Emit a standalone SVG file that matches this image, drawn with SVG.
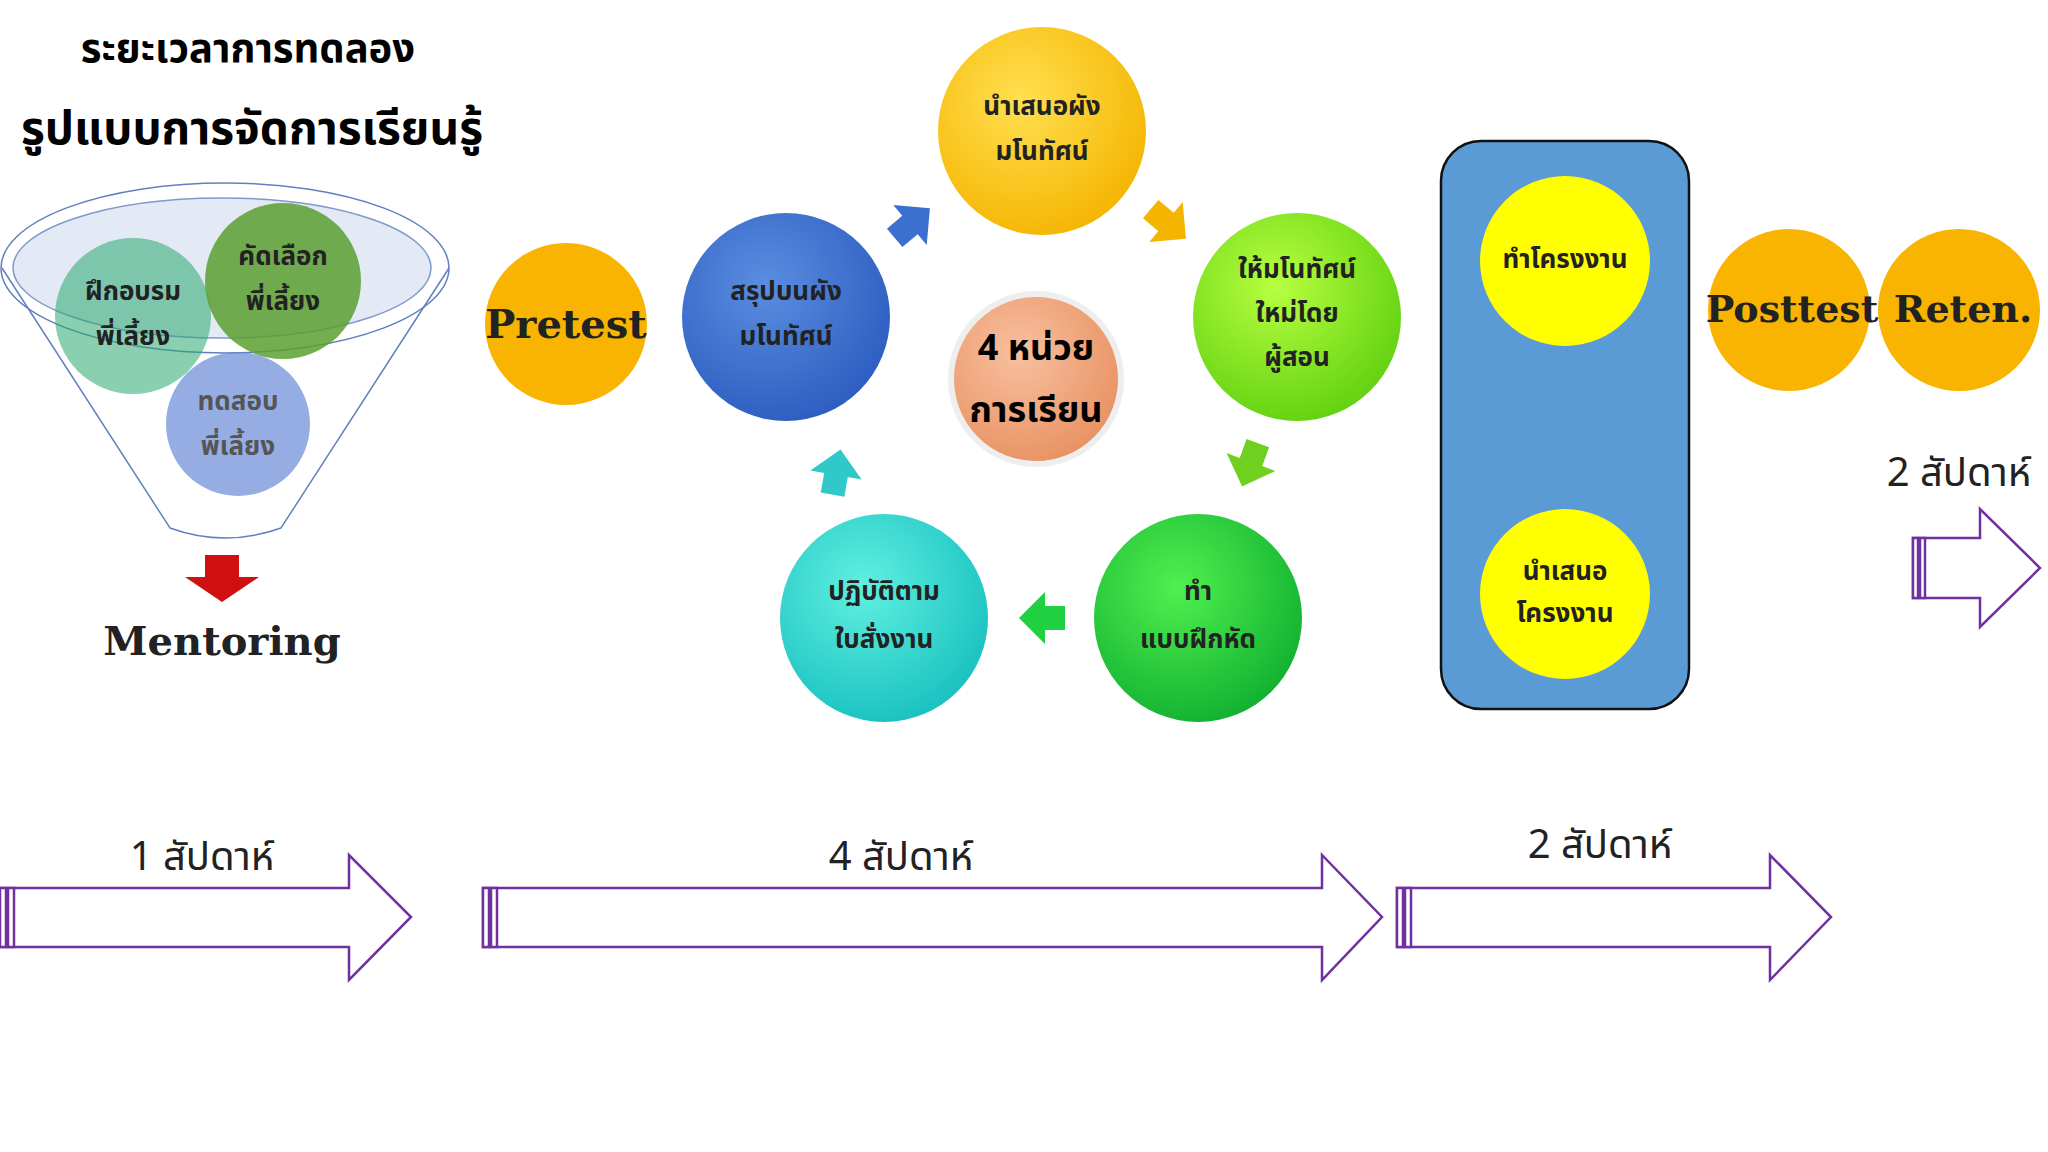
<svg xmlns="http://www.w3.org/2000/svg" width="2048" height="1152" viewBox="0 0 2048 1152">
<defs>
<radialGradient id="gY" cx="40%" cy="35%" r="70%"><stop offset="0" stop-color="#ffe050"/><stop offset="1" stop-color="#f5b400"/></radialGradient>
<radialGradient id="gG" cx="40%" cy="35%" r="70%"><stop offset="0" stop-color="#b8ff40"/><stop offset="1" stop-color="#60d010"/></radialGradient>
<radialGradient id="gG2" cx="40%" cy="35%" r="70%"><stop offset="0" stop-color="#50f050"/><stop offset="1" stop-color="#10b030"/></radialGradient>
<radialGradient id="gC" cx="40%" cy="35%" r="70%"><stop offset="0" stop-color="#60f0e0"/><stop offset="1" stop-color="#18c0c0"/></radialGradient>
<radialGradient id="gB" cx="40%" cy="35%" r="70%"><stop offset="0" stop-color="#5a8ee0"/><stop offset="1" stop-color="#2c5cc0"/></radialGradient>
<radialGradient id="gO" cx="40%" cy="35%" r="70%"><stop offset="0" stop-color="#f8c0a0"/><stop offset="1" stop-color="#e89060"/></radialGradient>
</defs>
<style>
text{font-family:"Noto Sans Thai","Noto Sans","DejaVu Sans",sans-serif;text-anchor:middle}
.t{font-size:26px;font-weight:bold;fill:#222}
.w{font-size:40px;fill:#222}
.b{font-size:40px;font-weight:bold;font-family:"DejaVu Serif","Liberation Serif",serif;fill:#222}
.arr{fill:#fff;stroke:#7030a0;stroke-width:2.5}
</style>
<rect width="2048" height="1152" fill="#fff"/>
<text x="248" y="62" style="font-size:40px;font-weight:bold">ระยะเวลาการทดลอง</text>
<text x="252" y="144" style="font-size:46px;font-weight:bold">รูปแบบการจัดการเรียนรู้</text>
<g id="funnel">
<path d="M2,268 L170,528 Q225,548 281,528 L449,268" fill="none" stroke="#6080c0" stroke-width="1.5"/>
<ellipse cx="225" cy="268" rx="224" ry="85" fill="none" stroke="#6080c0" stroke-width="1.5"/>
<ellipse cx="222" cy="268" rx="209" ry="70" fill="#dde6f4" stroke="#6080c0" stroke-width="1.5" opacity="0.8"/>
<circle cx="133" cy="316" r="78" fill="#2aa870" opacity="0.55"/>
<circle cx="283" cy="281" r="78" fill="#5aa030" opacity="0.85"/>
<circle cx="238" cy="424" r="72" fill="#6a8ad8" opacity="0.7"/>
<text class="t" x="133" y="300">ฝึกอบรม</text><text class="t" x="133" y="345" fill="#444">พี่เลี้ยง</text>
<text class="t" x="283" y="265">คัดเลือก</text><text class="t" x="283" y="310">พี่เลี้ยง</text>
<text class="t" x="238" y="410" style="fill:#555">ทดสอบ</text><text class="t" x="238" y="455" style="fill:#555">พี่เลี้ยง</text>
<path d="M205,555 h34 v22 h20 l-37,25 l-37,-25 h20 z" fill="#d01010"/>
<text class="b" x="222" y="655">Mentoring</text>
</g>
<g id="pretest"><circle cx="566" cy="324" r="81" fill="#f8b400"/><text class="b" x="566" y="338">Pretest</text></g>
<g id="cycle">
<circle cx="1042" cy="131" r="104" fill="url(#gY)"/><text class="t" x="1042" y="115">นำเสนอผัง</text><text class="t" x="1042" y="160">มโนทัศน์</text>
<circle cx="1297" cy="317" r="104" fill="url(#gG)"/><text class="t" x="1297" y="278">ให้มโนทัศน์</text><text class="t" x="1297" y="322">ใหม่โดย</text><text class="t" x="1297" y="366">ผู้สอน</text>
<circle cx="1198" cy="618" r="104" fill="url(#gG2)"/><text class="t" x="1198" y="600">ทำ</text><text class="t" x="1198" y="648">แบบฝึกหัด</text>
<circle cx="884" cy="618" r="104" fill="url(#gC)"/><text class="t" x="884" y="600">ปฏิบัติตาม</text><text class="t" x="884" y="648">ใบสั่งงาน</text>
<circle cx="786" cy="317" r="104" fill="url(#gB)"/><text class="t" x="786" y="300">สรุปบนผัง</text><text class="t" x="786" y="345">มโนทัศน์</text>
<circle cx="1036" cy="379" r="85" fill="url(#gO)" stroke="#eee" stroke-width="6"/><text x="1036" y="360" style="font-size:36px;font-weight:bold">4 หน่วย</text><text x="1036" y="422" style="font-size:36px;font-weight:bold">การเรียน</text>
</g>
<g id="connectors">
<path d="M-20,-12 h20 v-14 l26,26 l-26,26 v-14 h-20 z" fill="#3c70d0" transform="translate(910,225) rotate(-40)"/>
<path d="M-20,-12 h20 v-14 l26,26 l-26,26 v-14 h-20 z" fill="#f5b400" transform="translate(1166,222) rotate(40)"/>
<path d="M-20,-12 h20 v-14 l26,26 l-26,26 v-14 h-20 z" fill="#70d020" transform="translate(1251,462) rotate(110)"/>
<path d="M-20,-12 h20 v-14 l26,26 l-26,26 v-14 h-20 z" fill="#20d040" transform="translate(1045,618) rotate(180)"/>
<path d="M-20,-12 h20 v-14 l26,26 l-26,26 v-14 h-20 z" fill="#30c8c8" transform="translate(836,475) rotate(-80)"/>
<path class="arr" d="M0,888 H349 V855 L411,917 L349,980 V947 H0 Z"/>
<rect x="0" y="888" width="6" height="59" class="arr"/><rect x="8" y="888" width="6" height="59" class="arr"/>
<path class="arr" d="M483,888 H1322 V855 L1382,917 L1322,980 V947 H483 Z"/>
<rect x="483" y="888" width="6" height="59" class="arr"/><rect x="491" y="888" width="6" height="59" class="arr"/>
<path class="arr" d="M1397,888 H1770 V855 L1831,917 L1770,980 V947 H1397 Z"/>
<rect x="1397" y="888" width="6" height="59" class="arr"/><rect x="1405" y="888" width="6" height="59" class="arr"/>
<path class="arr" d="M1913,538 H1980 V509 L2040,568 L1980,627 V598 H1913 Z"/>
<rect x="1913" y="538" width="5" height="60" class="arr"/><rect x="1920" y="538" width="5" height="60" class="arr"/>
<text class="w" x="202" y="870">1 สัปดาห์</text>
<text class="w" x="901" y="870">4 สัปดาห์</text>
<text class="w" x="1600" y="858">2 สัปดาห์</text>
<text class="w" x="1959" y="486">2 สัปดาห์</text>
</g>
<g id="project">
<rect x="1441" y="141" width="248" height="568" rx="40" fill="#5b9bd5" stroke="#111" stroke-width="2.5"/>
<circle cx="1565" cy="261" r="85" fill="#ffff00"/><text class="t" x="1565" y="268">ทำโครงงาน</text>
<circle cx="1565" cy="594" r="85" fill="#ffff00"/><text class="t" x="1565" y="580">นำเสนอ</text><text class="t" x="1565" y="622">โครงงาน</text>
</g>
<g id="posttest"><circle cx="1789" cy="310" r="81" fill="#f8b400"/><text class="b" x="1792" y="322" style="font-size:38px">Posttest</text></g>
<g id="reten"><circle cx="1959" cy="310" r="81" fill="#f8b400"/><text class="b" x="1963" y="322" style="font-size:38px">Reten.</text></g>
</svg>
